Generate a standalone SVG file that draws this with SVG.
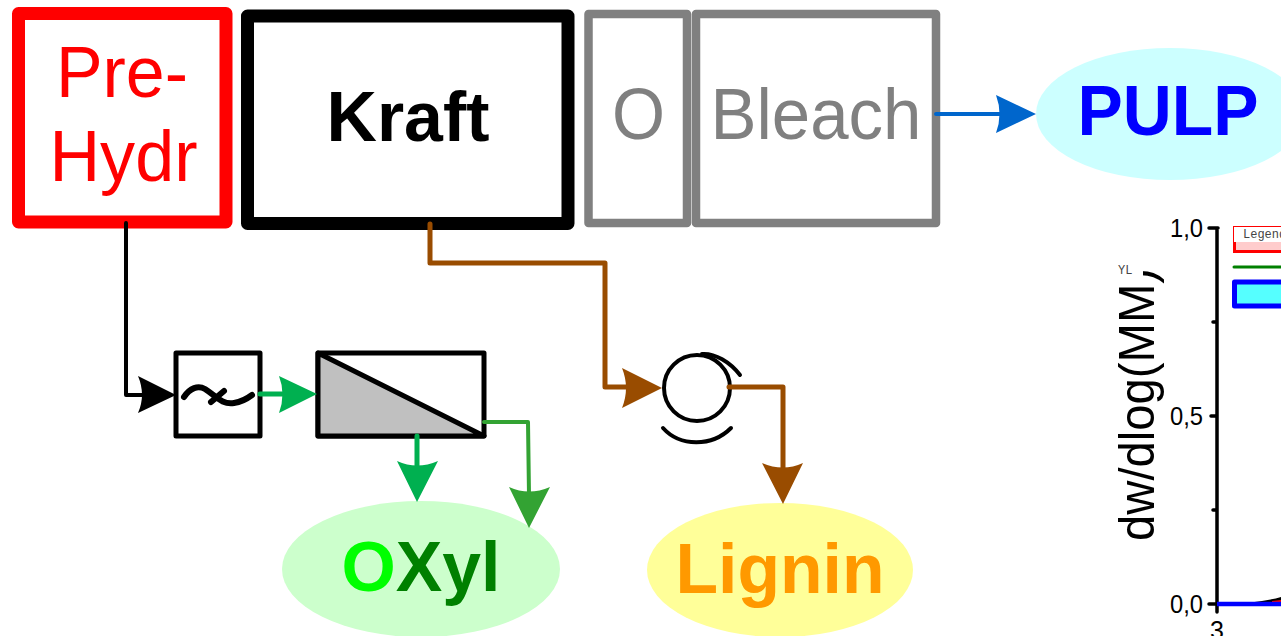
<svg xmlns="http://www.w3.org/2000/svg" width="1281" height="636" viewBox="0 0 1281 636">
<style>
text{font-family:"Liberation Sans",Arial,sans-serif}
text.mono{font-family:"Liberation Mono","Courier New",monospace}
.box{fill:#fff;stroke-linejoin:round}
.conn{fill:none;stroke-linejoin:round;stroke-linecap:round}
.big{font-size:72px;text-anchor:middle}
.bold{font-size:71px;font-weight:bold}
.tick{font-size:25px;fill:#000}
.k{fill:none;stroke:#000;stroke-linecap:round;stroke-linejoin:round}
</style>
<rect width="1281" height="636" fill="#fff"/>
<g id="prehydr">
<rect class="box" x="18.5" y="13.5" width="207.5" height="208.5" stroke="#ff0000" stroke-width="13"/>
<text class="big" x="122" y="97" fill="#ff0000" textLength="132" lengthAdjust="spacingAndGlyphs">Pre-</text>
<text class="big" x="123.5" y="181" fill="#ff0000" textLength="148" lengthAdjust="spacingAndGlyphs">Hydr</text>
</g>
<g id="kraft">
<rect class="box" x="247.5" y="16" width="320.5" height="207.5" stroke="#000" stroke-width="13"/>
<text class="big bold" x="408" y="141" fill="#000" textLength="163" lengthAdjust="spacingAndGlyphs">Kraft</text>
</g>
<g id="oxygen">
<rect class="box" x="588.5" y="14" width="98.5" height="209" stroke="#808080" stroke-width="8.5"/>
<text class="big" x="638.5" y="139" fill="#808080" textLength="53" lengthAdjust="spacingAndGlyphs">O</text>
</g>
<g id="bleach">
<rect class="box" x="696" y="14" width="240" height="209" stroke="#808080" stroke-width="8.5"/>
<text class="big" x="816" y="139" fill="#808080" textLength="211" lengthAdjust="spacingAndGlyphs">Bleach</text>
</g>
<g id="pulp">
<ellipse cx="1170" cy="114" rx="134" ry="66" fill="#ccffff"/>
<text class="big bold" x="1168" y="135" fill="#0000ff" textLength="181" lengthAdjust="spacingAndGlyphs">PULP</text>
</g>
<g id="filter">
<rect class="box" x="176" y="353" width="84" height="83" stroke="#000" stroke-width="5"/>
<path class="k" stroke-width="6" d="M184 397C190 388 198 385 205 389C216 396 222 405 234 403C241 402 248 398 252 395M211 402L224 391"/>
</g>
<g id="membrane">
<rect class="box" x="318" y="353" width="166" height="83" stroke="#000" stroke-width="5"/>
<path d="M318 353L484 436H318Z" fill="#c0c0c0" stroke="#000" stroke-width="5" stroke-linejoin="round"/>
</g>
<g id="separator">
<circle cx="697" cy="388" r="33" fill="#fff" stroke="#000" stroke-width="4"/>
<path class="k" stroke-width="4" d="M702 354C715 353 730 362 740 375M663 428C680 447 712 447 731 428"/>
</g>
<g id="oxyl">
<ellipse cx="421" cy="569" rx="139" ry="68" fill="#ccffcc"/>
<text class="big bold" x="421" y="591" fill="#008000" textLength="159" lengthAdjust="spacingAndGlyphs"><tspan fill="#00ff00">O</tspan>Xyl</text>
</g>
<g id="lignin">
<ellipse cx="780" cy="570" rx="133" ry="67" fill="#ffff99"/>
<text class="big bold" x="780" y="593" fill="#ff9900" textLength="209" lengthAdjust="spacingAndGlyphs">Lignin</text>
</g>
<g id="connectors">
<path class="conn" stroke="#000" stroke-width="4" d="M126 223V395H150"/>
<path fill="#000" d="M176 395L138 376Q146 395 138 413Z"/>
<path class="conn" stroke="#00b050" stroke-width="5" d="M260 394H285"/>
<path fill="#00b050" d="M317 394L279 376Q286 394 279 413Z"/>
<path class="conn" stroke="#00b050" stroke-width="5" d="M417 436V470"/>
<path fill="#00b050" d="M417 502L397 461Q417 470 438 461Z"/>
<path class="conn" stroke="#33a333" stroke-width="4" d="M484 422H528L529 495"/>
<path fill="#33a333" d="M529 528L509 487Q529 496 550 487Z"/>
<path class="conn" stroke="#994c00" stroke-width="5" d="M430 224V263H605V387H630"/>
<path fill="#994c00" d="M662 388L622 368Q630 388 622 408Z"/>
<path class="conn" stroke="#994c00" stroke-width="5" d="M729 387H783V470"/>
<path fill="#994c00" d="M783 504L762 463Q783 472 803 463Z"/>
<path class="conn" stroke="#0066cc" stroke-width="4" d="M936 114H1003"/>
<path fill="#0066cc" d="M1036 114L996 95Q1003 114 996 133Z"/>
</g>
<g id="chart">
<path class="k" stroke-width="3.5" stroke-linecap="butt" d="M1217 228V612M1209 228H1218M1209 604H1217M1211 416H1217M1213 322H1217M1213 510H1217"/>
<path d="M1225 604Q1260 603 1281 597V604Z" fill="#000"/>
<path d="M1272 604V601L1281 600V604Z" fill="#ff0000"/>
<path d="M1217 604H1281" stroke="#0000ff" stroke-width="4.5"/>
<text class="tick" x="1203" y="237" text-anchor="end" textLength="33" lengthAdjust="spacingAndGlyphs">1,0</text>
<text class="tick" x="1203" y="425" text-anchor="end" textLength="33" lengthAdjust="spacingAndGlyphs">0,5</text>
<text class="tick" x="1203" y="613" text-anchor="end" textLength="33" lengthAdjust="spacingAndGlyphs">0,0</text>
<text class="tick" x="1217" y="639" text-anchor="middle">3</text>
<text transform="translate(1154 541) rotate(-90)" font-size="50" fill="#000" textLength="273" lengthAdjust="spacingAndGlyphs">dw/dlog(MM)</text>
<rect x="1112" y="258" width="31" height="26" fill="#fff"/>
<text class="mono" x="1118" y="274" font-size="12" fill="#444">YL</text>
<rect x="1233.5" y="226.5" width="60" height="25" fill="#fff" stroke="#ff0000" stroke-width="1"/>
<rect x="1234" y="242" width="60" height="9" fill="#ffcccc"/>
<path d="M1234.5 242V251.5H1294" fill="none" stroke="#ff0000" stroke-width="3"/>
<text class="mono" x="1243" y="238" font-size="12" fill="#444">Legend</text>
<path d="M1234 267H1290" stroke="#008000" stroke-width="3" stroke-linecap="round"/>
<rect x="1234.5" y="282" width="60" height="24" fill="#55ffff" stroke="#0000ff" stroke-width="5" stroke-linejoin="round"/>
</g>
</svg>
